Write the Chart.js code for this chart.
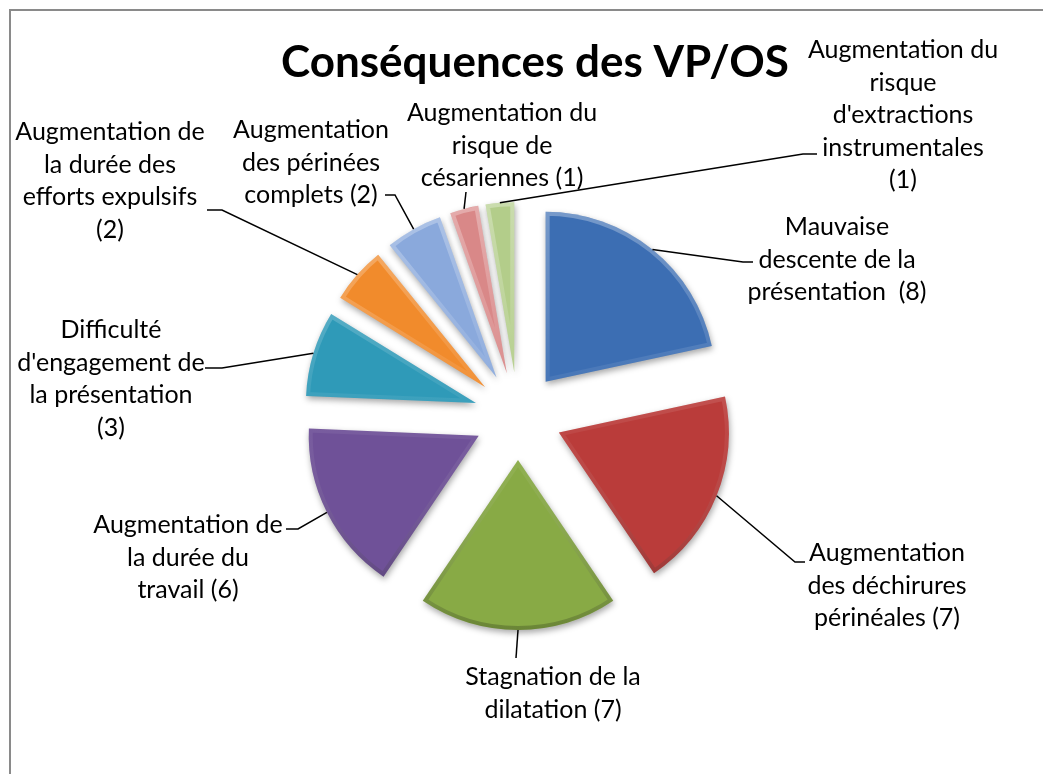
<!DOCTYPE html>
<html>
<head>
<meta charset="UTF-8">
<title>Conséquences des VP/OS</title>
<script src="https://cdn.jsdelivr.net/npm/chart.js@4.4.0/dist/chart.umd.min.js"></script>
<style>
  body { margin: 0; background: #fff; }
  #wrap { position: relative; width: 1043px; height: 774px; overflow: hidden; }
  #frame { position: absolute; left: 9px; top: 9px; width: 1200px; height: 900px; border: 2px solid #8a8a8a; }
  canvas { position: absolute; left: 0; top: 0; }
</style>
</head>
<body>
<div id="wrap">
  <div id="frame"></div>
  <canvas id="chart" width="1043" height="774"></canvas>
</div>
<script>
// chart data
const chartTitle = "Conséquences des VP/OS";
const categories = [
  ["Mauvaise", "descente de la", "présentation "],
  ["Augmentation", "des déchirures", "périnéales"],
  ["Stagnation de la", "dilatation"],
  ["Augmentation de", "la durée du", "travail"],
  ["Difficulté", "d'engagement de", "la présentation"],
  ["Augmentation de", "la durée des", "efforts expulsifs"],
  ["Augmentation", "des périnées", "complets"],
  ["Augmentation du", "risque de", "césariennes"],
  ["Augmentation du", "risque", "d'extractions", "instrumentales"]
];
const values = [8, 7, 7, 6, 3, 2, 2, 1, 1];
// value "(n)" goes on its own line for these
const valueOwnLine = [false, false, false, false, true, true, false, false, true];

const colors = ["#3c6eb3", "#ba3c3a", "#88aa45", "#6f5198", "#2f9ab8",
                "#f18b2c", "#8aa9dc", "#d98888", "#b3cd8a"];

// where each label sits (center x, first line y) and how its leader bends
const labelPos = [
  { x: 837, y: 227, elbow: [743, 262], end: [753, 262] },
  { x: 887, y: 553, elbow: [795, 562], end: [805, 562] },
  { x: 553, y: 677, elbow: [516, 658], end: [516, 658] },
  { x: 188, y: 525, elbow: [298, 529], end: [286, 529] },
  { x: 111, y: 330, elbow: [222, 368], end: [205, 368] },
  { x: 110, y: 132, elbow: [222, 210], end: [207, 210] },
  { x: 311, y: 130, elbow: [395, 195], end: [385, 195] },
  { x: 502, y: 113, elbow: [466, 192], end: [466, 192] },
  { x: 903, y: 50,  elbow: [803, 154], end: [817, 154] }
];

const explode = 44;      // how far every slice is pulled out
const lineGap = 32.5;
const labelFont = "25px Lato";
const titleFont = "bold 44px Lato";

function slicePath(ctx, arc) {
  ctx.beginPath();
  ctx.moveTo(arc.x, arc.y);
  ctx.arc(arc.x, arc.y, arc.outerRadius, arc.startAngle, arc.endAngle);
  ctx.closePath();
}

// fake the office bevel: light rim on top, dark rim at the bottom
function bevel(ctx, arc) {
  ctx.save();
  slicePath(ctx, arc);
  ctx.clip();
  const r = arc.outerRadius;
  const g = ctx.createLinearGradient(0, arc.y - r, 0, arc.y + r);
  g.addColorStop(0, "rgba(255,255,255,0.30)");
  g.addColorStop(0.5, "rgba(255,255,255,0.06)");
  g.addColorStop(1, "rgba(0,0,0,0.22)");
  ctx.strokeStyle = g;
  ctx.lineWidth = 8;
  ctx.lineJoin = "round";
  ctx.stroke();
  ctx.restore();
}

const explodedPie = {
  id: "explodedPie",
  beforeDatasetsDraw(chart) {
    const ctx = chart.ctx;
    chart.getDatasetMeta(0).data.forEach(arc => {
      const mid = (arc.startAngle + arc.endAngle) / 2;
      ctx.save();
      ctx.translate(Math.cos(mid) * explode, Math.sin(mid) * explode);
      ctx.save();
      ctx.shadowColor = "rgba(0,0,0,0.35)";
      ctx.shadowBlur = 6;
      ctx.shadowOffsetX = 1;
      ctx.shadowOffsetY = 3;
      arc.draw(ctx);
      ctx.restore();
      bevel(ctx, arc);
      ctx.restore();
    });
    return false;
  },
  afterDraw(chart) {
    const ctx = chart.ctx;
    ctx.save();
    // title
    ctx.fillStyle = "#000";
    ctx.font = titleFont;
    ctx.textAlign = "center";
    ctx.textBaseline = "middle";
    ctx.fillText(chartTitle, 535, 63);

    const labels = chart.data.labels;
    const data = chart.data.datasets[0].data;
    chart.getDatasetMeta(0).data.forEach((arc, i) => {
      const mid = (arc.startAngle + arc.endAngle) / 2;
      const d = explode + arc.outerRadius;
      const ax = arc.x + Math.cos(mid) * d;
      const ay = arc.y + Math.sin(mid) * d;
      const p = labelPos[i];
      ctx.strokeStyle = "#000";
      ctx.lineWidth = 1.5;
      ctx.beginPath();
      ctx.moveTo(ax, ay);
      ctx.lineTo(p.elbow[0], p.elbow[1]);
      ctx.lineTo(p.end[0], p.end[1]);
      ctx.stroke();

      const lines = labels[i].slice();
      const v = "(" + data[i] + ")";
      if (valueOwnLine[i]) lines.push(v);
      else lines[lines.length - 1] += " " + v;
      ctx.font = labelFont;
      ctx.fillStyle = "#000";
      lines.forEach((t, k) => ctx.fillText(t, p.x, p.y + k * lineGap));
    });
    ctx.restore();
  }
};

new Chart(document.getElementById("chart"), {
  type: "pie",
  data: {
    labels: categories,
    datasets: [{
      data: values,
      backgroundColor: colors,
      borderWidth: 0
    }]
  },
  options: {
    responsive: false,
    devicePixelRatio: 1,
    animation: false,
    events: [],
    radius: 170,
    layout: { padding: { left: 300, right: 307, top: 220, bottom: 162 } },
    plugins: {
      legend: { display: false },
      tooltip: { enabled: false },
      title: { display: false }
    }
  },
  plugins: [explodedPie]
});
</script>
</body>
</html>
